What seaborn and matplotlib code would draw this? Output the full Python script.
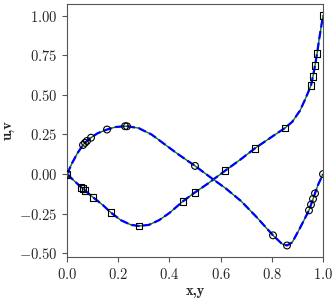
import numpy as np
import pandas as pd
import seaborn as sns
import matplotlib.pyplot as plt

# simulated profiles: u along vertical centreline (vs y), v along horizontal centreline (vs x)
u_y = [0.0, 0.02, 0.04, 0.0547, 0.0625, 0.0703, 0.1016, 0.14, 0.1719, 0.21, 0.25,
       0.2813, 0.32, 0.36, 0.40, 0.4531, 0.5, 0.55, 0.6172, 0.68, 0.7344, 0.80,
       0.8516, 0.88, 0.91, 0.93, 0.9531, 0.9609, 0.9688, 0.9766, 0.985, 1.0]
u_val = [0.0, -0.03, -0.06, -0.082, -0.093, -0.103, -0.146, -0.195, -0.243, -0.29, -0.32,
         -0.327, -0.32, -0.29, -0.245, -0.171, -0.115, -0.06, 0.021, 0.095, 0.163, 0.235,
         0.291, 0.33, 0.40, 0.47, 0.559, 0.618, 0.684, 0.758, 0.85, 1.0]

v_x = [0.0, 0.02, 0.04, 0.0625, 0.0703, 0.0781, 0.0938, 0.12, 0.1563, 0.19, 0.2266,
       0.2344, 0.28, 0.33, 0.38, 0.43, 0.5, 0.56, 0.62, 0.68, 0.74, 0.8047, 0.84,
       0.8594, 0.88, 0.91, 0.9453, 0.9531, 0.9609, 0.9688, 0.98, 1.0]
v_val = [0.0, 0.07, 0.13, 0.184, 0.197, 0.209, 0.230, 0.258, 0.281, 0.297, 0.302,
         0.302, 0.29, 0.25, 0.19, 0.13, 0.052, -0.02, -0.09, -0.17, -0.27, -0.386, -0.44,
         -0.45, -0.43, -0.34, -0.228, -0.193, -0.157, -0.121, -0.07, 0.0]

# Ghia et al. reference points (Re = 400)
ghia_y = [1.0, 0.9766, 0.9688, 0.9609, 0.9531, 0.8516, 0.7344, 0.6172, 0.5, 0.4531,
          0.2813, 0.1719, 0.1016, 0.0703, 0.0625, 0.0547, 0.0]
ghia_u = [1.0, 0.75837, 0.68439, 0.61756, 0.55892, 0.29093, 0.16256, 0.02135, -0.11477,
          -0.17119, -0.32726, -0.24299, -0.14612, -0.10338, -0.09266, -0.08186, 0.0]
ghia_x = [1.0, 0.9688, 0.9609, 0.9531, 0.9453, 0.8594, 0.8047, 0.5, 0.2344, 0.2266,
          0.1563, 0.0938, 0.0781, 0.0703, 0.0625, 0.0]
ghia_v = [0.0, -0.12146, -0.15663, -0.19254, -0.22847, -0.44993, -0.38598, 0.05186,
          0.30174, 0.30203, 0.28124, 0.22965, 0.20920, 0.19713, 0.18360, 0.0]

x_ticks = [0.0, 0.2, 0.4, 0.6, 0.8, 1.0]
y_ticks = [-0.5, -0.25, 0.0, 0.25, 0.5, 0.75, 1.0]

sns.set_style("ticks")
plt.rcParams['font.family'] = 'serif'
plt.rcParams['font.serif'] = ['cmr10']
plt.rcParams['axes.unicode_minus'] = False
plt.rcParams['mathtext.fontset'] = 'cm'

fig, ax = plt.subplots(figsize=(3.33, 2.99), dpi=100)
fig.subplots_adjust(left=67/333, right=323/333, top=1-4/299, bottom=1-257/299)

for xs, ys in [(u_y, u_val), (v_x, v_val)]:
    df = pd.DataFrame({"s": xs, "q": ys})
    sns.lineplot(data=df, x="s", y="q", sort=False, estimator=None, color="green", lw=1.0, ax=ax)
    sns.lineplot(data=df, x="s", y="q", sort=False, estimator=None, color="blue", lw=1.6,
                 linestyle="--", ax=ax)

sns.scatterplot(x=ghia_y, y=ghia_u, marker="s", s=24, facecolor="none", edgecolor="black",
                linewidth=0.8, ax=ax, zorder=3)
sns.scatterplot(x=ghia_x, y=ghia_v, marker="o", s=24, facecolor="none", edgecolor="black",
                linewidth=0.8, ax=ax, zorder=3)

ax.set_xlim(0, 1)
ax.set_xticks(x_ticks)
ax.set_yticks(y_ticks)
ax.set_xticklabels([f"${t:.1f}$" for t in x_ticks])
ax.set_yticklabels([f"${t:.2f}$" for t in y_ticks])
ax.tick_params(labelsize=10.5, color="#555555", length=3.5)
for sp in ax.spines.values():
    sp.set_color("#555555")
    sp.set_visible(True)
ax.set_xlabel("x,y", fontname="cmb10", fontsize=10.5, labelpad=2)
ax.set_ylabel("u,v", fontname="cmb10", fontsize=10.5, labelpad=3)

fig.savefig("out.png", dpi=100)
